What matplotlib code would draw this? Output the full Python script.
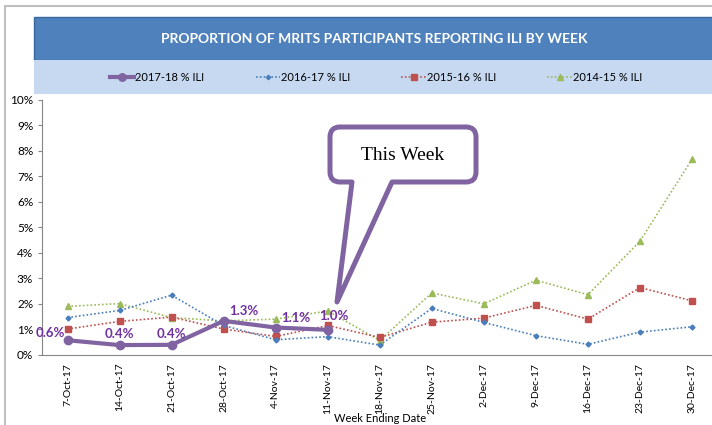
import matplotlib
matplotlib.use("Agg")
import matplotlib.pyplot as plt
from matplotlib.patches import Rectangle, PathPatch
from matplotlib.path import Path
from matplotlib.transforms import IdentityTransform
from matplotlib.ticker import PercentFormatter

plt.rcParams['font.family'] = ['Lato', 'DejaVu Sans']

# 주 단위 날짜 (x축)
weeks = ['7-Oct-17', '14-Oct-17', '21-Oct-17', '28-Oct-17', '4-Nov-17', '11-Nov-17',
         '18-Nov-17', '25-Nov-17', '2-Dec-17', '9-Dec-17', '16-Dec-17', '23-Dec-17', '30-Dec-17']

# 시즌별 % ILI
ili_1718 = [0.56, 0.37, 0.38, 1.32, 1.06, 0.97]
ili_1617 = [1.45, 1.73, 2.33, 1.14, 0.58, 0.70, 0.37, 1.81, 1.26, 0.74, 0.40, 0.88, 1.09]
ili_1516 = [1.00, 1.30, 1.47, 1.00, 0.71, 1.14, 0.67, 1.27, 1.43, 1.93, 1.39, 2.63, 2.11]
ili_1415 = [1.89, 2.00, 1.45, 1.32, 1.39, 1.71, 0.55, 2.42, 1.99, 2.92, 2.35, 4.45, 7.67]

W, H = 712, 425
fig = plt.figure(figsize=(W / 100, H / 100), dpi=100)
fig.patch.set_facecolor('white')


def px(x, y):
    # 이미지 좌표(위에서부터) -> 디스플레이 좌표
    return (x, H - y)


# 바깥 테두리
fig.patches.append(Rectangle(px(4.5, 440), 800, 434.5, fill=False, edgecolor='#BFBFBF',
                             lw=1.5, transform=IdentityTransform(), figure=fig))
# 제목 배너
fig.patches.append(Rectangle(px(34, 60), 700, 43, facecolor='#4F81BD', edgecolor='#3A679C',
                             lw=1, transform=IdentityTransform(), figure=fig))
fig.patches.append(Rectangle(px(34, 94), 700, 34, facecolor='#C6D9F1', edgecolor='none',
                             transform=IdentityTransform(), figure=fig))
fig.text(374 / W, 1 - 39 / H, 'PROPORTION OF MRITS PARTICIPANTS REPORTING ILI BY WEEK',
         color='white', fontsize=10, fontweight='bold', ha='center', va='center')

ax = fig.add_axes([41.5 / W, 1 - 354.5 / H, (718 - 41.5) / W, (354.5 - 100) / H])
x_all = list(range(len(weeks)))

dot = (0, (1, 1.3))
l4, = ax.plot(x_all, ili_1415, color='#9BBB59', lw=1.2, ls=dot, marker='^', ms=4.5,
              label='2014-15 % ILI')
l3, = ax.plot(x_all, ili_1516, color='#C0504D', lw=1.2, ls=dot, marker='s', ms=4.5,
              label='2015-16 % ILI')
l2, = ax.plot(x_all, ili_1617, color='#4A7EBB', lw=1.2, ls=dot, marker='D', ms=2.5,
              label='2016-17 % ILI')
l1, = ax.plot(x_all[:len(ili_1718)], ili_1718, color='#8064A2', lw=3, marker='o', ms=6,
              label='2017-18 % ILI', zorder=5)

# 데이터 레이블
offsets = [(-2, 5, 'right'), (0, 8, 'center'), (0, 8, 'center'),
           (4, 7, 'left'), (4, 7, 'left'), (4.5, 10, 'center')]
for i, v in enumerate(ili_1718):
    dx, dy, ha = offsets[i]
    ax.annotate(f'{v:.1f}%', (i, v), xytext=(dx, dy), textcoords='offset points',
                ha=ha, va='center', color='#7030A0', fontsize=9.5, fontweight='bold', zorder=6)

ax.set_xlim(-0.5, 12.5)
ax.set_ylim(0, 10)
ax.set_yticks(range(0, 11))
ax.yaxis.set_major_formatter(PercentFormatter(xmax=100, decimals=0))
ax.set_xticks(x_all)
ax.set_xticklabels(weeks, rotation=90, fontsize=7.5)
ax.tick_params(axis='x', length=0, pad=6)
ax.tick_params(axis='y', length=3, color='#868686', labelsize=8.5, pad=3)
for s in ['top', 'right']:
    ax.spines[s].set_visible(False)
for s in ['left', 'bottom']:
    ax.spines[s].set_color('#868686')
ax.set_facecolor('none')
fig.text(380 / W, 1 - 418 / H, 'Week Ending Date', fontsize=8, ha='center', va='center')

fig.legend(handles=[l1, l2, l3, l4], loc='center', bbox_to_anchor=(376 / W, 1 - 77.5 / H),
           ncol=4, frameon=False, fontsize=8, handlelength=2.2, handletextpad=0.1,
           columnspacing=4.6, markerscale=0.9)

# "This Week" 말풍선
x0, x1, top, bot, r = 330, 476, H - 127, H - 182, 10
tip = (337, H - 302)
verts = [(x0 + r, top), (x1 - r, top), (x1, top), (x1, top - r), (x1, bot + r), (x1, bot),
         (x1 - r, bot), (392, bot), tip, (352, bot), (x0 + r, bot), (x0, bot), (x0, bot + r),
         (x0, top - r), (x0, top), (x0 + r, top), (x0 + r, top)]
codes = [Path.MOVETO, Path.LINETO, Path.CURVE3, Path.CURVE3, Path.LINETO, Path.CURVE3,
         Path.CURVE3, Path.LINETO, Path.LINETO, Path.LINETO, Path.LINETO, Path.CURVE3,
         Path.CURVE3, Path.LINETO, Path.CURVE3, Path.CURVE3, Path.CLOSEPOLY]
fig.patches.append(PathPatch(Path(verts, codes), facecolor='white', edgecolor='#8064A2',
                             lw=3.6, joinstyle='round', transform=IdentityTransform(),
                             figure=fig, zorder=10))
fig.text(403 / W, 1 - 155 / H, 'This Week', family=['Liberation Serif', 'DejaVu Serif'],
         fontsize=14, ha='center', va='center', zorder=11)

fig.savefig('out.png', dpi=100)
